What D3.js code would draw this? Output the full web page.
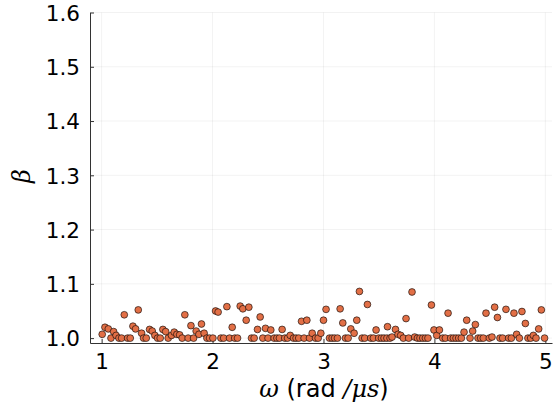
<!DOCTYPE html>
<html>
<head>
<meta charset="utf-8">
<script src="https://cdn.jsdelivr.net/npm/d3@7"></script>
<style>
  html, body { margin: 0; padding: 0; background: #fff; }
  svg { display: block; }
</style>
</head>
<body>
<svg id="chart" width="554" height="406"></svg>
<script>
// Drive frequency ω (rad/μs) and measured ratio β
const omega = [
  1.005, 1.03, 1.06, 1.084, 1.108, 1.13, 1.156, 1.18, 1.204, 1.234, 1.258, 1.282, 1.306, 1.33, 1.36,
  1.378, 1.402, 1.432, 1.456, 1.48, 1.504, 1.528, 1.552, 1.577, 1.6, 1.63, 1.654, 1.678, 1.703, 1.726,
  1.75, 1.78, 1.805, 1.829, 1.852, 1.877, 1.9, 1.924, 1.949, 1.973, 2.003, 2.027, 2.05, 2.075, 2.1,
  2.129, 2.153, 2.177, 2.2, 2.225, 2.249, 2.273, 2.303, 2.327, 2.351, 2.375, 2.405, 2.429, 2.453, 2.477,
  2.5, 2.525, 2.555, 2.58, 2.603, 2.627, 2.651, 2.676, 2.7, 2.73, 2.753, 2.777, 2.802, 2.825, 2.85,
  2.874, 2.898, 2.928, 2.952, 2.976, 3.0, 3.023, 3.054, 3.078, 3.1, 3.126, 3.15, 3.174, 3.198, 3.222,
  3.246, 3.276, 3.3, 3.324, 3.348, 3.372, 3.396, 3.426, 3.45, 3.474, 3.498, 3.523, 3.546, 3.577, 3.572,
  3.6, 3.618, 3.649, 3.672, 3.696, 3.72, 3.744, 3.768, 3.798, 3.822, 3.847, 3.87, 3.895, 3.919, 3.942,
  3.973, 3.996, 4.021, 4.045, 4.075, 4.099, 4.123, 4.147, 4.171, 4.195, 4.219, 4.243, 4.267, 4.291, 4.321,
  4.345, 4.369, 4.393, 4.417, 4.441, 4.465, 4.495, 4.519, 4.543, 4.568, 4.591, 4.615, 4.645, 4.669, 4.694,
  4.717, 4.741, 4.766, 4.789, 4.82, 4.843, 4.868, 4.892, 4.916, 4.94, 4.964, 4.993
];
const beta = [
  1.007, 1.02, 1.017, 1.0, 1.012, 1.005, 1.0, 1.0, 1.043, 1.0, 1.0, 1.022, 1.017, 1.052, 1.009,
  1.0, 1.0, 1.016, 1.013, 1.005, 1.0, 1.0, 1.016, 1.012, 1.0, 1.005, 1.011, 1.007, 1.006, 1.0,
  1.043, 1.0, 1.023, 1.0, 1.013, 1.007, 1.026, 1.009, 1.0, 1.0, 1.0, 1.05, 1.048, 1.0, 1.0,
  1.058, 1.0, 1.02, 1.0, 1.0, 1.059, 1.054, 1.033, 1.057, 1.0, 1.0, 1.016, 1.039, 1.0, 1.018,
  1.0, 1.015, 1.0, 1.0, 1.0, 1.016, 1.0, 1.0, 1.005, 1.0, 1.0, 1.0, 1.031, 1.0, 1.033,
  1.0, 1.009, 1.0, 1.0, 1.009, 1.033, 1.053, 1.0, 1.0, 1.0, 1.0, 1.054, 1.028, 1.0, 1.0,
  1.017, 1.009, 1.033, 1.086, 1.0, 1.0, 1.062, 1.0, 1.0, 1.015, 1.0, 1.0, 1.0, 1.021, 1.0,
  1.0, 1.002, 1.016, 1.007, 1.005, 1.0, 1.036, 1.0, 1.085, 1.002, 1.0, 1.0, 1.0, 1.0, 1.0,
  1.061, 1.015, 1.005, 1.015, 1.0, 1.0, 1.046, 1.0, 1.0, 1.0, 1.0, 1.0, 1.011, 1.033, 1.0,
  1.013, 1.025, 1.0, 1.0, 1.0, 1.046, 1.0, 1.002, 1.057, 1.038, 1.0, 1.0, 1.053, 1.0, 1.0,
  1.046, 1.007, 1.0, 1.049, 1.027, 1.0, 1.0, 1.005, 1.0, 1.017, 1.052, 1.0
];
const xTicks = [1, 2, 3, 4, 5];
const yTicks = [1.0, 1.1, 1.2, 1.3, 1.4, 1.5, 1.6];

const svg = d3.select("#chart");
const plotLeft = 90, plotRight = 552, plotTop = 12.5, plotBottom = 343;

const x = d3.scaleLinear().domain([0.895, 5.06]).range([plotLeft, plotRight]);
const y = d3.scaleLinear().domain([0.991, 1.6]).range([plotBottom, plotTop]);

const font = "'DejaVu Sans', sans-serif";

// grid
svg.append("g").selectAll("line").data(xTicks).join("line")
  .attr("x1", d => x(d)).attr("x2", d => x(d))
  .attr("y1", plotTop).attr("y2", plotBottom)
  .attr("stroke", "#000").attr("stroke-opacity", 0.1).attr("stroke-width", 0.5);
svg.append("g").selectAll("line").data(yTicks).join("line")
  .attr("x1", plotLeft).attr("x2", plotRight)
  .attr("y1", d => y(d)).attr("y2", d => y(d))
  .attr("stroke", "#000").attr("stroke-opacity", 0.1).attr("stroke-width", 0.5);

// axes
const xAxis = d3.axisBottom(x).tickValues(xTicks).tickFormat(d3.format("d"))
  .tickSizeInner(-4).tickSizeOuter(0).tickPadding(14);
const yAxis = d3.axisLeft(y).tickValues(yTicks).tickFormat(d3.format(".1f"))
  .tickSizeInner(-4).tickSizeOuter(0).tickPadding(14);

const gx = svg.append("g").attr("transform", `translate(0,${plotBottom})`).call(xAxis);
const gy = svg.append("g").attr("transform", `translate(${plotLeft},0)`).call(yAxis);
[gx, gy].forEach(g => {
  g.select(".domain").attr("stroke", "#333").attr("stroke-width", 1);
  g.selectAll(".tick line").attr("stroke", "#333").attr("stroke-width", 1);
  g.selectAll(".tick text").attr("fill", "#000").attr("font-family", font).attr("font-size", 21.5);
});
gy.selectAll(".tick text").attr("x", -10).attr("dy", "0.36em");
gx.selectAll(".tick text").attr("dy", "0.71em").attr("y", 11);

// points
svg.append("g").selectAll("circle").data(omega.map((w, i) => [w, beta[i]])).join("circle")
  .attr("cx", d => x(d[0])).attr("cy", d => y(d[1])).attr("r", 3.4)
  .attr("fill", "#e26f46").attr("stroke", "#000").attr("stroke-opacity", 0.75).attr("stroke-width", 0.8);

// axis titles
const xl = svg.append("text").attr("x", 324).attr("y", 397).attr("text-anchor", "middle")
  .attr("font-size", 24).attr("fill", "#000").attr("font-family", font);
xl.append("tspan").attr("font-family", "'DejaVu Serif', serif").attr("font-style", "italic").text("ω");
xl.append("tspan").text(" (rad ");
xl.append("tspan").attr("font-family", "'DejaVu Serif', serif").attr("font-style", "italic").text("/μs");
xl.append("tspan").text(")");

svg.append("text").attr("transform", "translate(30,176) rotate(-90)")
  .attr("text-anchor", "middle").attr("font-size", 24).attr("fill", "#000")
  .attr("font-family", "'DejaVu Serif', serif").attr("font-style", "italic").text("β");
</script>
</body>
</html>
